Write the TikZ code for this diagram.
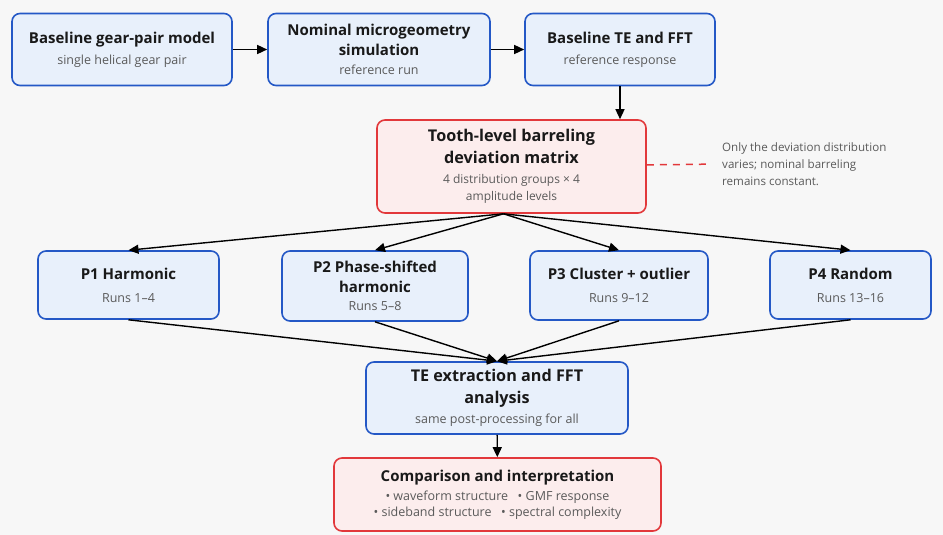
\documentclass[tikz,border=0pt]{standalone}
\usepackage{fontspec}
\setmainfont{Open Sans}
\usetikzlibrary{arrows.meta}

\definecolor{boxblue}{HTML}{2458C6}
\definecolor{fillblue}{HTML}{E8F0FB}
\definecolor{boxred}{HTML}{E2383B}
\definecolor{fillred}{HTML}{FCEDED}
\definecolor{subgray}{HTML}{5A5A5A}
\definecolor{bggray}{HTML}{F7F7F7}

\newcommand{\ttl}{\fontsize{15}{20}\selectfont\bfseries}
\newcommand{\bigttl}{\fontsize{16.2}{22}\selectfont\bfseries}
\newcommand{\subt}{\fontsize{12.5}{17}\selectfont\mdseries\color{subgray}}

\tikzset{
  stage/.style={draw=boxblue, fill=fillblue, line width=1.6pt, rounded corners=8pt,
    align=center, inner sep=0pt, font=\ttl, text=black!90},
  keystage/.style={stage, draw=boxred, fill=fillred},
  flow/.style={-{Triangle[length=10pt,width=9pt]}, line width=1.4pt, black},
}

\begin{document}
\begin{tikzpicture}[x=1pt, y=-1pt]
  \fill[bggray] (0,0) rectangle (943,535); % background

  % top row
  \node[stage, minimum width=220pt, minimum height=72pt] (base) at (122,49.5)
    {\rule{0pt}{6pt}Baseline gear-pair model\\[1pt] {\subt single helical gear pair}};
  \node[stage, minimum width=222pt, minimum height=72pt] (nominal) at (379,49.5)
    {Nominal microgeometry\\ simulation\\[-1pt] {\subt reference run}};
  \node[stage, minimum width=190pt, minimum height=72pt] (basefft) at (620,49.5)
    {\rule{0pt}{6pt}Baseline TE and FFT\\[1pt] {\subt reference response}};

  % deviation matrix
  \node[keystage, minimum width=269pt, minimum height=93pt, font=\bigttl] (matrix) at (511.5,166.5)
    {Tooth-level barreling\\ deviation matrix\\[-2pt]
     {\subt\fontsize{12}{16}\selectfont 4 distribution groups × 4}\\[-5pt]
     {\subt\fontsize{12}{16}\selectfont amplitude levels}};
  \node[anchor=west, align=left, inner sep=0pt, font=\fontsize{11.6}{17}\selectfont\color{subgray}] (note) at (722,164)
    {Only the deviation distribution\\ varies; nominal barreling\\ remains constant.};

  % distribution groups
  \node[stage, minimum width=181pt, minimum height=68pt] (p1) at (128.5,285)
    {P1 Harmonic\\[3pt] {\subt Runs 1–4}};
  \node[stage, minimum width=186pt, minimum height=70pt] (p2) at (375,286)
    {P2 Phase-shifted\\ harmonic\\[-2pt] {\subt Runs 5–8}};
  \node[stage, minimum width=178pt, minimum height=69pt] (p3) at (619,285.5)
    {P3 Cluster + outlier\\[3pt] {\subt Runs 9–12}};
  \node[stage, minimum width=161pt, minimum height=68pt] (p4) at (850.5,285)
    {P4 Random\\[3pt] {\subt Runs 13–16}};

  % post-processing
  \node[stage, minimum width=262pt, minimum height=72pt, font=\bigttl] (tefft) at (497,398)
    {TE extraction and FFT\\ analysis\\[-2pt] {\subt same post-processing for all}};
  \node[keystage, minimum width=327pt, minimum height=73pt] (compare) at (497.5,494.5)
    {Comparison and interpretation\\[-1pt]
     {\subt • waveform structure\enspace\ • GMF response}\\[-4pt]
     {\subt • sideband structure\enspace\ • spectral complexity}};

  \draw[flow] (base) -- (nominal);
  \draw[flow] (nominal) -- (basefft);
  \draw[flow] (basefft.south) -- (basefft.south |- matrix.north);
  \draw[boxred, line width=1.5pt, dash pattern=on 7pt off 6pt, shorten >=12pt] (matrix) -- (note.west);

  \foreach \p in {p1,p2,p3,p4} {
    \draw[flow] ([xshift=-8pt]matrix.south) -- (\p.north);
    \draw[flow] (\p.south) -- (tefft.north);
  }
  \draw[flow] (tefft) -- (compare);
\end{tikzpicture}
\end{document}
